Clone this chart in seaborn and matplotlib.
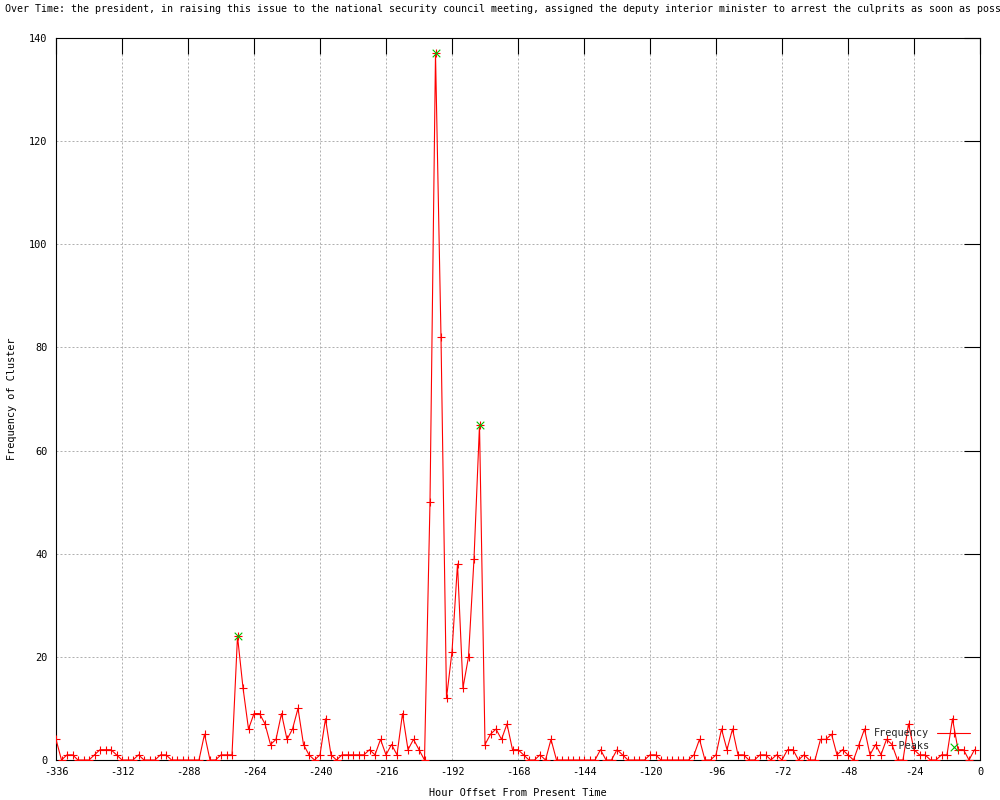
import matplotlib
matplotlib.use("Agg")
import pandas as pd
import seaborn as sns
import matplotlib.pyplot as plt

# hour offsets, one sample every 2 hours (-336 .. -2)
hours = list(range(-336, 0, 2))
counts = [
    4, 0, 1, 1, 0, 0, 0, 1, 2, 2,
    2, 1, 0, 0, 0, 1, 0, 0, 0, 1,
    1, 0, 0, 0, 0, 0, 0, 5, 0, 0,
    1, 1, 1, 24, 14, 6, 9, 9, 7, 3,
    4, 9, 4, 6, 10, 3, 1, 0, 1, 8,
    1, 0, 1, 1, 1, 1, 1, 2, 1, 4,
    1, 3, 1, 9, 2, 4, 2, 0, 50, 137,
    82, 12, 21, 38, 14, 20, 39, 65, 3, 5,
    6, 4, 7, 2, 2, 1, 0, 0, 1, 0,
    4, 0, 0, 0, 0, 0, 0, 0, 0, 2,
    0, 0, 2, 1, 0, 0, 0, 0, 1, 1,
    0, 0, 0, 0, 0, 0, 1, 4, 0, 0,
    1, 6, 2, 6, 1, 1, 0, 0, 1, 1,
    0, 1, 0, 2, 2, 0, 1, 0, 0, 4,
    4, 5, 1, 2, 1, 0, 3, 6, 1, 3,
    1, 4, 3, 0, 0, 7, 2, 1, 1, 0,
    0, 1, 1, 8, 2, 2, 0, 2,
]

peak_hours = [-270, -198, -182]
peak_counts = [24, 137, 65]

x_ticks = list(range(-336, 1, 24))
y_ticks = list(range(0, 141, 20))

title = ("Frequency Over Time: the president, in raising this issue to the national "
         "security council meeting, assigned the deputy interior minister to arrest "
         "the culprits as soon as possible")

sns.set_theme(style="white")
plt.rcParams["font.family"] = ["DejaVu Sans Mono"]
plt.rcParams["font.size"] = 7.4
plt.rcParams["axes.unicode_minus"] = False

df = pd.DataFrame({"hour": hours, "count": counts})
peaks = pd.DataFrame({"hour": peak_hours, "count": peak_counts})

fig = plt.figure(figsize=(10, 8), dpi=100)
ax = fig.add_axes([0.056, 0.05, 0.924, 0.9025])

sns.lineplot(data=df, x="hour", y="count", ax=ax, color="red", linewidth=0.8,
             marker="+", markersize=6, markeredgewidth=0.8, markeredgecolor="red",
             label="Frequency", zorder=3)
sns.scatterplot(data=peaks, x="hour", y="count", ax=ax, color="#00c000",
                marker="x", s=30, linewidth=0.8, label="    Peaks", zorder=4)

ax.set_xlim(-336, 0)
ax.set_ylim(0, 140)
ax.set_xticks(x_ticks)
ax.set_yticks(y_ticks)
ax.tick_params(direction="in", length=11.5, width=0.8, top=True, right=True,
               labelsize=7.4, colors="black")
ax.tick_params(axis="y", pad=6)
ax.tick_params(axis="x", pad=5)
ax.set_axisbelow(True)
ax.grid(True, color="#b0b0b0", linestyle=(0, (2, 2)), linewidth=0.72)
for s in ax.spines.values():
    s.set_visible(True)
    s.set_color("black")
    s.set_linewidth(0.8)

ax.set_xlabel("Hour Offset From Present Time", fontsize=7.4, labelpad=8, color="black")
ax.set_ylabel("Frequency of Cluster", fontsize=7.4, labelpad=9, color="black")

# long title, overflowing the figure on both sides like the original
fig.text(0.485, 0.9888, title, ha="center", va="center", color="black", fontsize=7.2)

handles, labels = ax.get_legend_handles_labels()
ax.legend(handles, labels, loc="lower right", bbox_to_anchor=(0.970, 0.061),
          bbox_transform=fig.transFigure, frameon=False, markerfirst=False,
          handlelength=3.2, handletextpad=0.8, labelspacing=0.3,
          borderpad=0, borderaxespad=0, numpoints=1, scatterpoints=1,
          fontsize=7.4)

fig.savefig("out.png", dpi=100)
